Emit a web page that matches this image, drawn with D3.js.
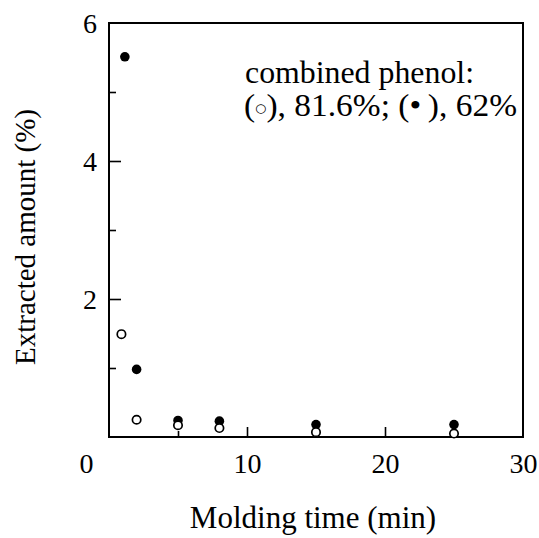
<!DOCTYPE html>
<html><head><meta charset="utf-8">
<script src="https://cdn.jsdelivr.net/npm/d3@7"></script>
<style>body{margin:0;background:#fff;} svg{display:block;} text{font-family:"Liberation Serif","Times New Roman",serif;fill:#000;}</style>
</head><body><svg id="c" width="539" height="538"></svg>
<script>
// data
const openX = [0.9, 2, 5, 8, 15, 25];
const openY = [1.49, 0.25, 0.17, 0.13, 0.07, 0.05];
const filledX = [1.15, 2, 5, 8, 15, 25];
const filledY = [5.51, 0.98, 0.24, 0.23, 0.18, 0.18];
const xTicks = [0, 10, 20, 30];
const xMinor = [5, 15, 25];
const yTicks = [0, 2, 4, 6];
const yMinor = [1, 3, 5];
const xLabel = "Molding time (min)";
const yLabel = "Extracted amount (%)";
const note1 = "combined phenol:";

const svg = d3.select("#c");
const L = 109, R = 523, T = 23, B = 437;
const x = d3.scaleLinear().domain([0, 30]).range([L, R]);
const y = d3.scaleLinear().domain([0, 6]).range([B, T]);
const fmt = d3.format("d");

function styleAxis(g) {
  g.attr("font-family", "Liberation Serif");
  g.select(".domain").remove();
  g.selectAll(".tick line").attr("stroke", "#000").attr("stroke-width", 1.6);
  g.selectAll(".tick text").attr("font-family", "Liberation Serif").attr("font-size", 28).attr("fill", "#000");
}

// x axis ticks (inward)
svg.append("g").attr("transform", `translate(0,${B})`)
  .call(d3.axisTop(x).tickValues(xTicks.filter(d => d > 0 && d < 30)).tickSize(10).tickFormat(() => ""))
  .call(styleAxis);
svg.append("g").attr("transform", `translate(0,${B})`)
  .call(d3.axisTop(x).tickValues(xMinor).tickSize(6).tickFormat(() => ""))
  .call(styleAxis);
const gxl = svg.append("g").attr("transform", `translate(0,${B})`)
  .call(d3.axisBottom(x).tickValues(xTicks).tickSize(0).tickPadding(0).tickFormat(fmt))
  .call(styleAxis);
gxl.selectAll(".tick line").remove();
gxl.selectAll(".tick text").attr("dy", null).attr("y", 36);
gxl.selectAll(".tick").filter(d => d === 0).select("text").attr("x", -23);

// y axis ticks (inward)
svg.append("g").attr("transform", `translate(${L},0)`)
  .call(d3.axisRight(y).tickValues(yTicks.filter(d => d > 0 && d < 6)).tickSize(12).tickFormat(() => ""))
  .call(styleAxis);
svg.append("g").attr("transform", `translate(${L},0)`)
  .call(d3.axisRight(y).tickValues(yMinor).tickSize(7).tickFormat(() => ""))
  .call(styleAxis);
const gyl = svg.append("g").attr("transform", `translate(${L},0)`)
  .call(d3.axisLeft(y).tickValues(yTicks.filter(d => d > 0)).tickSize(0).tickPadding(12).tickFormat(fmt))
  .call(styleAxis);
gyl.selectAll(".tick line").remove();
gyl.selectAll(".tick text").attr("dy", "0.34em");

// frame
svg.append("rect").attr("x", L).attr("y", T).attr("width", R - L).attr("height", B - T)
  .attr("fill", "none").attr("stroke", "#000").attr("stroke-width", 2);

// points
svg.append("g").selectAll("circle").data(filledX).join("circle")
  .attr("cx", (d) => x(d)).attr("cy", (d, i) => y(filledY[i])).attr("r", 4.8).attr("fill", "#000");
svg.append("g").selectAll("circle").data(openX).join("circle")
  .attr("cx", (d) => x(d)).attr("cy", (d, i) => y(openY[i])).attr("r", 4.2)
  .attr("fill", "#fff").attr("stroke", "#000").attr("stroke-width", 1.7);

// labels
svg.append("text").attr("x", 313).attr("y", 528).attr("text-anchor", "middle")
  .attr("font-size", 31).text(xLabel);
svg.append("text").attr("transform", "translate(35,237) rotate(-90)").attr("text-anchor", "middle")
  .attr("font-size", 29).text(yLabel);

// annotation
svg.append("text").attr("x", 245).attr("y", 83).attr("font-size", 31)
  .attr("textLength", 229).attr("lengthAdjust", "spacingAndGlyphs").text(note1);
const n2 = svg.append("text").attr("x", 244).attr("y", 116).attr("font-size", 31)
  .attr("textLength", 273).attr("lengthAdjust", "spacingAndGlyphs");
n2.append("tspan").text("(");
n2.append("tspan").attr("font-family", "DejaVu Sans").attr("font-size", 12).attr("dy", -4).text("\u25CB");
n2.append("tspan").attr("dy", 4).text("), 81.6%; (");
n2.append("tspan").text("\u2022\u2009");
n2.append("tspan").text("), 62%");
</script></body></html>
